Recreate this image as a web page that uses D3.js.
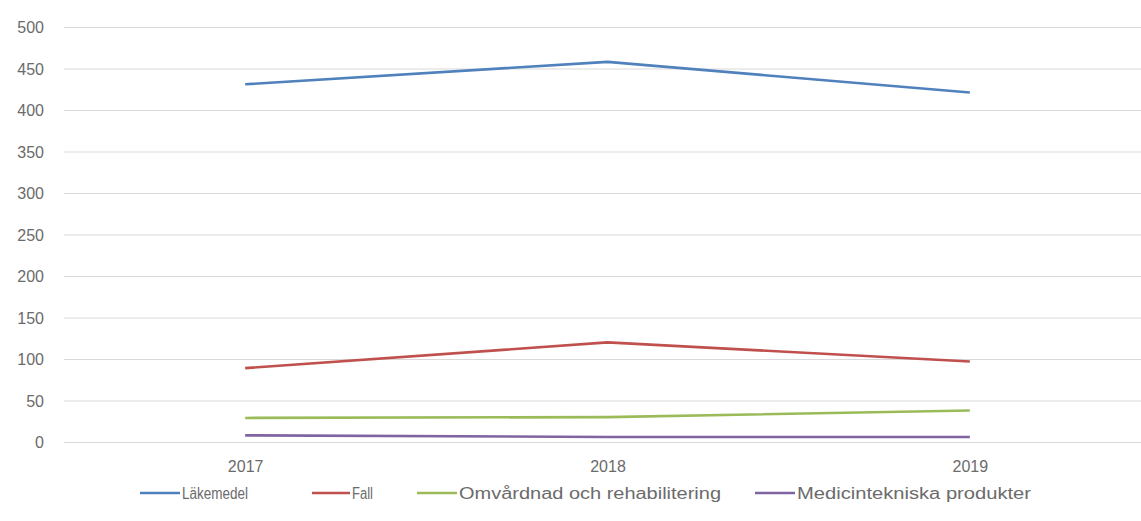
<!DOCTYPE html>
<html>
<head>
<meta charset="utf-8">
<script src="https://cdn.jsdelivr.net/npm/d3@7"></script>
<style>
  html, body { margin: 0; padding: 0; background: #ffffff; }
  svg { display: block; font-family: "Liberation Sans", "DejaVu Sans", sans-serif; }
</style>
</head>
<body>
<svg id="chart" width="1141" height="521"></svg>
<script>
// Reported incidents per category and year
const years = ["2017", "2018", "2019"];
const lakemedel = [431, 458, 421];
const fall = [89, 120, 97];
const omvardnad = [29, 30, 38];
const medicinteknik = [8, 6, 6];
const seriesNames = ["Läkemedel", "Fall", "Omvårdnad och rehabilitering", "Medicintekniska produkter"];
const yTicks = [0, 50, 100, 150, 200, 250, 300, 350, 400, 450, 500];

const seriesValues = [lakemedel, fall, omvardnad, medicinteknik];
const colors = ["#4f81bd", "#c0504d", "#9bbb59", "#8064a2"];

const svg = d3.select("#chart");

// Plot area: category bands run slightly past the right edge of the page
const x = d3.scalePoint().domain(years).range([64, 1151]).padding(0.5);
const y = d3.scaleLinear().domain([0, 500]).range([442, 27]);

// Horizontal gridlines
svg.append("g")
  .selectAll("line")
  .data(yTicks)
  .join("line")
  .attr("x1", 64)
  .attr("x2", 1151)
  .attr("y1", d => y(d) + 0.5)
  .attr("y2", d => y(d) + 0.5)
  .attr("stroke", "#d9d9d9")
  .attr("stroke-width", 1);

// Value axis labels
const yAxis = d3.axisLeft(y).tickValues(yTicks).tickSize(0).tickPadding(0);
const yg = svg.append("g").attr("transform", "translate(44,0)").call(yAxis);
yg.select(".domain").remove();
yg.selectAll("text")
  .attr("fill", "#6b6b6b")
  .attr("font-size", 16)
  .attr("font-family", "Liberation Sans, sans-serif")
  .attr("dy", "0.36em");

// Category axis labels
const xAxis = d3.axisBottom(x).tickSize(0).tickPadding(0);
const xg = svg.append("g").attr("transform", "translate(0,458)").call(xAxis);
xg.select(".domain").remove();
xg.selectAll("text")
  .attr("fill", "#6b6b6b")
  .attr("font-size", 16)
  .attr("font-family", "Liberation Sans, sans-serif")
  .attr("dy", "0.9em");

// Series lines
const line = d3.line()
  .x((d, i) => x(years[i]))
  .y(d => y(d));

svg.append("g")
  .selectAll("path")
  .data(seriesValues)
  .join("path")
  .attr("d", d => line(d))
  .attr("fill", "none")
  .attr("stroke", (d, i) => colors[i])
  .attr("stroke-width", 2.6)
  .attr("stroke-linejoin", "round")
  .attr("stroke-linecap", "butt");

// Legend
const legendItems = [
  { x0: 140, x1: 180, w: 66 },
  { x0: 312, x1: 350, w: 21 },
  { x0: 417, x1: 457, w: 262 },
  { x0: 755, x1: 795, w: 234 }
];
const legendY = 493;
const lg = svg.append("g");
legendItems.forEach((it, i) => {
  lg.append("line")
    .attr("x1", it.x0).attr("x2", it.x1)
    .attr("y1", legendY).attr("y2", legendY)
    .attr("stroke", colors[i])
    .attr("stroke-width", 2.6);
  lg.append("text")
    .attr("x", it.x1 + 2)
    .attr("y", legendY)
    .attr("dy", "0.36em")
    .attr("fill", "#6b6b6b")
    .attr("font-size", 16)
    .attr("textLength", it.w)
    .attr("lengthAdjust", "spacingAndGlyphs")
    .text(seriesNames[i]);
});
</script>
</body>
</html>
